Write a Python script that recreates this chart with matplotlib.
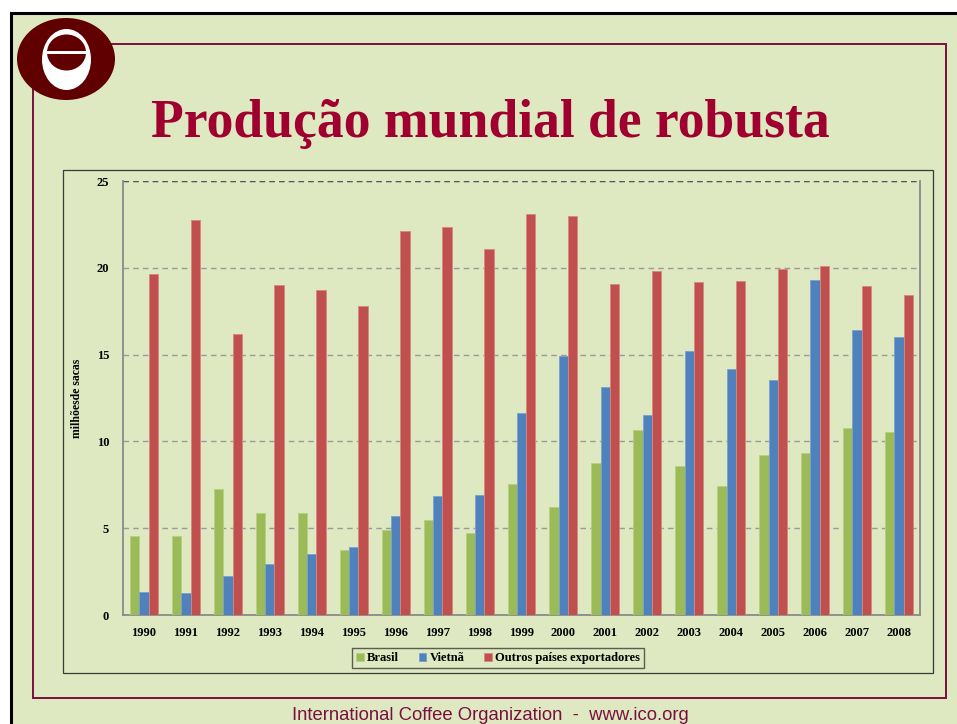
import matplotlib

matplotlib.use("Agg")
import matplotlib.pyplot as plt
import numpy as np
from matplotlib.patches import Ellipse, Rectangle

# values (million bags)
years = ["1990", "1991", "1992", "1993", "1994", "1995", "1996", "1997", "1998", "1999",
         "2000", "2001", "2002", "2003", "2004", "2005", "2006", "2007", "2008"]
brasil = [4.57, 4.57, 7.23, 5.85, 5.85, 3.72, 4.89, 5.45, 4.72, 7.54,
          6.22, 8.73, 10.65, 8.60, 7.43, 9.19, 9.33, 10.77, 10.54]
vietna = [1.34, 1.25, 2.26, 2.95, 3.49, 3.89, 5.68, 6.85, 6.91, 11.61,
          14.93, 13.11, 11.50, 15.20, 14.15, 13.51, 19.29, 16.41, 15.99]
outros = [19.63, 22.77, 16.21, 19.03, 18.75, 17.80, 22.11, 22.34, 21.06, 23.11,
          22.97, 19.06, 19.81, 19.21, 19.23, 19.92, 20.10, 18.93, 18.46]
series_names = ["Brasil", "Vietnã", "Outros países exportadores"]
yticks = [0, 5, 10, 15, 20, 25]

W, H = 957, 724
BG = "#dee8c1"
MAROON = "#7a1040"
serif = ["Liberation Serif", "DejaVu Serif"]

fig = plt.figure(figsize=(W / 100, H / 100), dpi=100)
fig.patch.set_facecolor("white")

# slide background, frames and logo drawn in pixel coordinates
bg = fig.add_axes([0, 0, 1, 1], zorder=0)
bg.set_xlim(0, W)
bg.set_ylim(H, 0)
bg.axis("off")
bg.add_patch(Rectangle((10.5, 12.5), W + 20, H + 20, facecolor=BG, edgecolor="black", lw=2.2))
bg.add_patch(Rectangle((33, 44), 913, 654, facecolor="none", edgecolor=MAROON, lw=1.4))
bg.add_patch(Rectangle((63, 170), 870, 503, facecolor=BG, edgecolor="#3a3a3a", lw=0.9))

# ICO logo
bg.add_patch(Ellipse((66, 59), 98, 82, facecolor="#600000", edgecolor="none"))
bg.add_patch(Ellipse((66.5, 59.5), 49, 61, facecolor="white", edgecolor="none"))
bg.add_patch(Ellipse((66.5, 52.5), 39, 36, facecolor="#600000", edgecolor="none"))
bg.add_patch(Rectangle((45, 50.5), 43, 3.2, facecolor="white", edgecolor="none"))

bg.text(490, 124, "Produção mundial de robusta", ha="center", va="center",
        fontsize=38.6, fontweight="bold", family=serif, color="#a00030")
bg.text(490, 716, "International Coffee Organization  -  www.ico.org", ha="center",
        va="center", fontsize=13.3, family=["Liberation Sans", "DejaVu Sans"], color=MAROON)

# bar chart
ax = fig.add_axes([123 / W, 1 - 615 / H, 797 / W, 434 / H], zorder=1)
ax.set_facecolor("none")
x = np.arange(len(years))
bw = 0.222
colors = ["#9bbb59", "#4f81bd", "#c0504d"]
edges = ["#b5cf80", "#7aa0cf", "#d88582"]
for i, (vals, name) in enumerate(zip([brasil, vietna, outros], series_names)):
    ax.bar(x + (i - 1) * bw, vals, width=bw, color=colors[i], edgecolor=edges[i],
           lw=0.6, label=name, zorder=3)

ax.set_xlim(-0.5, len(years) - 0.5)
ax.set_ylim(0, 25)
ax.set_yticks(yticks)
ax.set_xticks(x)
ax.set_xticklabels(years)
for t in ax.get_xticklabels() + ax.get_yticklabels():
    t.set_fontfamily(serif)
    t.set_fontweight("bold")
    t.set_fontsize(9)
ax.tick_params(length=0)
ax.tick_params(axis="x", pad=9)
ax.tick_params(axis="y", pad=10)
ax.yaxis.grid(True, ls=(0, (4, 3)), color="#9a9a9a", lw=1.0, zorder=0)
for s in ["left", "bottom", "right"]:
    ax.spines[s].set_color("#8a8a8a")
    ax.spines[s].set_linewidth(1.3)
ax.spines["top"].set_visible(False)
ax.axhline(25, ls=(0, (4, 3)), color="#555555", lw=1.0, zorder=2)
ax.set_ylabel("milhõesde sacas", family=serif, fontweight="bold", fontsize=8.5, labelpad=10)

leg = ax.legend(loc="center", bbox_to_anchor=(498 / W, 1 - 658 / H), bbox_transform=fig.transFigure,
                ncol=3, prop={"family": serif, "weight": "bold", "size": 9}, frameon=True,
                fancybox=False, edgecolor="#3a3a3a", facecolor=BG, handlelength=0.6,
                handleheight=0.6, handletextpad=0.25, columnspacing=1.6, borderpad=0.3,
                borderaxespad=0)
leg.get_frame().set_linewidth(1.0)

fig.savefig("out.png", dpi=100)
